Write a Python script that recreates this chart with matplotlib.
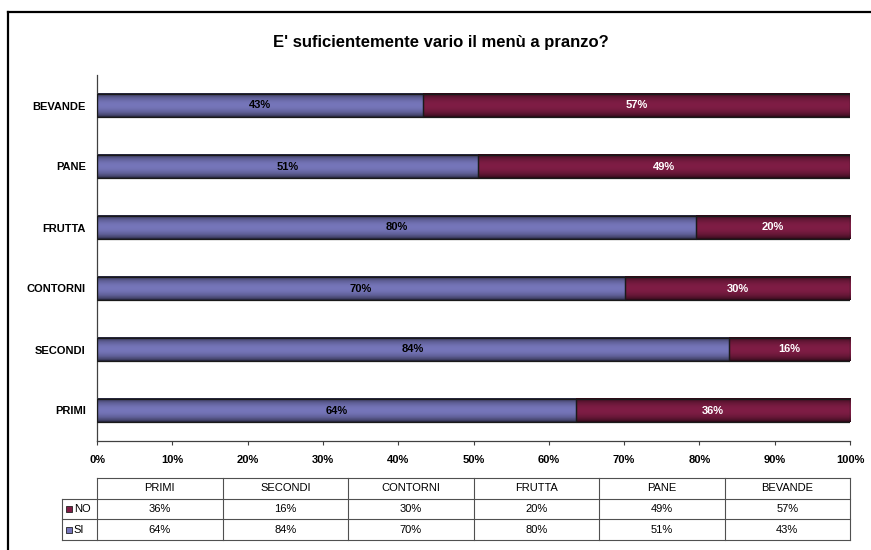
import numpy as np
import matplotlib
matplotlib.use("Agg")
import matplotlib.pyplot as plt
from matplotlib.colors import to_rgb
from matplotlib.lines import Line2D

# ── Data ─────────────────────────────────────────────────────
categories = ["PRIMI", "SECONDI", "CONTORNI", "FRUTTA", "PANE", "BEVANDE"]
si_values  = [63.6, 83.9, 70.1, 79.5, 50.6, 43.3]
no_values  = [36.4, 16.1, 29.9, 20.5, 49.4, 56.7]
x_ticks    = [0, 10, 20, 30, 40, 50, 60, 70, 80, 90, 100]
title      = "E' suficientemente vario il menù a pranzo?"

SI_COL = "#7676ba"
NO_COL = "#7f1d45"
W, H = 871, 550

plt.rcParams["font.family"] = ["Liberation Sans", "DejaVu Sans"]

fig = plt.figure(figsize=(W / 100, H / 100), dpi=100)
fig.patch.set_facecolor("white")

ax = fig.add_axes([97 / W, 1 - 441 / H, (850 - 97) / W, (441 - 75) / H])
y = np.arange(len(categories))


def shade(color):
    # cylinder-like vertical shading, like the Excel bars
    t = np.linspace(0, 1, 40)
    f = 0.3 + 0.7 * np.sin(np.pi * t) ** 0.6
    rgb = np.array(to_rgb(color))
    return (f[:, None] * rgb[None, :])[:, None, :]


def draw_bars(left, vals, color, txtcol):
    bars = ax.barh(y, vals, left=left, height=0.39, facecolor="none",
                   edgecolor="#1a1a1a", linewidth=0.9, zorder=3)
    grad = shade(color)
    for b, v in zip(bars, vals):
        bb = b.get_bbox()
        ax.imshow(grad, extent=[bb.x0, bb.x1, bb.y0, bb.y1], aspect="auto",
                  interpolation="bilinear", zorder=2)
        ax.text(bb.x0 + bb.width / 2, b.get_y() + b.get_height() / 2,
                f"{v:.0f}%", ha="center", va="center", fontsize=8,
                fontweight="bold", color=txtcol, zorder=4)
    return bars


draw_bars(0, si_values, SI_COL, "black")
draw_bars(si_values, no_values, NO_COL, "white")

ax.set_xlim(0, 100)
ax.set_ylim(-0.5, len(categories) - 0.5)
ax.set_yticks(y)
ax.set_yticklabels(categories, fontsize=8, fontweight="bold")
ax.set_xticks(x_ticks)
ax.set_xticklabels([f"{t}%" for t in x_ticks], fontsize=8, fontweight="bold")
ax.tick_params(axis="y", length=0, pad=8)
ax.tick_params(axis="x", length=3, direction="out", pad=7, color="#404040")
for s in ["top", "right"]:
    ax.spines[s].set_visible(False)
for s in ["left", "bottom"]:
    ax.spines[s].set_color("#404040")
    ax.spines[s].set_linewidth(0.9)

fig.text(441 / W, 1 - 42 / H, title, ha="center", va="center",
         fontsize=12, fontweight="bold")

# ── Data table ───────────────────────────────────────────────
tax = fig.add_axes([62 / W, 1 - 540 / H, (850 - 62) / W, (540 - 478) / H])
lab = 35 / 125.5
ncol = len(categories)
tax.set_xlim(-lab, ncol)
tax.set_ylim(3, 0)
tax.axis("off")
lc = dict(color="#505050", lw=0.8, clip_on=False)
tax.plot([0, ncol], [0, 0], **lc)
for r in [1, 2, 3]:
    tax.plot([-lab, ncol], [r, r], **lc)
tax.plot([-lab, -lab], [1, 3], **lc)
for c in range(ncol + 1):
    tax.plot([c, c], [0, 3], **lc)

rows = [("NO", no_values, NO_COL), ("SI", si_values, SI_COL)]
for i, cat in enumerate(categories):
    tax.text(i + 0.5, 0.5, cat, ha="center", va="center", fontsize=8)
for r, (name, vals, col) in enumerate(rows, start=1):
    tax.plot([-lab + 0.052], [r + 0.5], marker="s", markersize=4.5,
             markerfacecolor=col, markeredgecolor="#222222",
             markeredgewidth=0.6, clip_on=False)
    tax.text(-lab + 0.095, r + 0.5, name, ha="left", va="center", fontsize=8)
    for i, v in enumerate(vals):
        tax.text(i + 0.5, r + 0.5, f"{v:.0f}%", ha="center", va="center",
                 fontsize=8)

# outer frame (cropped chart area border)
fig.add_artist(Line2D([8 / W, 1], [1 - 12 / H] * 2, transform=fig.transFigure,
                      color="black", lw=1.6))
fig.add_artist(Line2D([8 / W, 8 / W], [1 - 12 / H, 0], transform=fig.transFigure,
                      color="black", lw=1.6))

fig.savefig("out.png", dpi=100)
